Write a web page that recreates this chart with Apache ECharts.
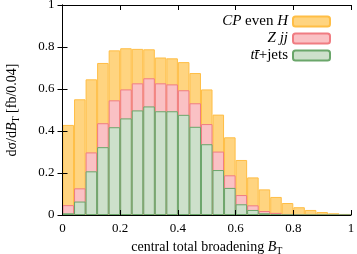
<!DOCTYPE html>
<html><head><meta charset="utf-8">
<script src="https://cdn.jsdelivr.net/npm/echarts@6/dist/echarts.min.js"></script>
<style>html,body{margin:0;padding:0;background:#fff}#c{width:357px;height:254px}</style>
</head><body><div id="c"></div>
<script>
// bin centres of B_T (bin width 0.04)
const bins = ["0.02","0.06","0.10","0.14","0.18","0.22","0.26","0.30","0.34","0.38","0.42","0.46","0.50","0.54","0.58","0.62","0.66","0.70","0.74","0.78","0.82","0.86","0.90","0.94","0.98"];
// component contributions [fb/0.04]
const ttjets = [0.008,0.064,0.208,0.323,0.418,0.460,0.498,0.517,0.494,0.494,0.477,0.420,0.337,0.214,0.129,0.051,0.024,0.008,0.003,0.001,0,0,0,0,0];
const zjj    = [0.039,0.063,0.090,0.114,0.128,0.138,0.129,0.134,0.133,0.128,0.117,0.112,0.096,0.088,0.060,0.044,0.022,0.011,0.007,0.004,0.002,0,0,0,0];
const cpEvenH= [0.382,0.424,0.348,0.287,0.238,0.196,0.164,0.138,0.123,0.124,0.134,0.144,0.165,0.176,0.181,0.167,0.133,0.103,0.076,0.052,0.035,0.024,0.014,0.008,0.005];
const xTickLabels = ["0","0.2","0.4","0.6","0.8","1"];
const yTickLabels = ["0","0.2","0.4","0.6","0.8","1"];
const seriesNames = ["CP even H","Zjj","tt+jets"];

const cumZ = ttjets.map((v,i)=>+(v+zjj[i]).toFixed(4));
const cumH = cumZ.map((v,i)=>+(v+cpEvenH[i]).toFixed(4));

const FONT = "Liberation Serif";
const tickFmt = labels => (v => { const i = Math.round(v/0.2); return labels[i] !== undefined ? labels[i] : ""; });

const chart = echarts.init(document.getElementById('c'), null, {renderer:'canvas'});
const axisLine = {show:true, lineStyle:{color:'#000', width:1}};
const tick = {show:true, inside:true, length:5, lineStyle:{color:'#000', width:1}};
const nameRich = {r:{fontFamily:FONT,fontSize:14}, i:{fontFamily:FONT,fontSize:14,fontStyle:'italic'}, s:{fontFamily:FONT,fontSize:10,padding:[8,0,0,0]}};
chart.setOption({
  animation:false,
  grid:{left:62.5, right:6, top:5, bottom:39, containLabel:false, outerBoundsMode:'none'},
  legend:{
    orient:'vertical', right:21, top:9, align:'right',
    itemWidth:37, itemHeight:10, itemGap:2,
    data:seriesNames,
    textStyle:{fontFamily:FONT, fontSize:15, color:'#000',
      rich:{i:{fontFamily:FONT, fontStyle:'italic', fontSize:15}, r:{fontFamily:FONT, fontSize:15}}},
    formatter: n => {
      if (n === seriesNames[0]) return "{i|CP}{r| even }{i|H}";
      if (n === seriesNames[1]) return "{i|Z jj}";
      return "{i|tt\u0304}{r|+jets}";
    }
  },
  xAxis:[
    {type:'category', data:bins, show:false, boundaryGap:true},
    {type:'value', min:0, max:1, interval:0.2, position:'bottom', z:10,
     axisLine:axisLine, axisTick:tick, splitLine:{show:false},
     axisLabel:{formatter:tickFmt(xTickLabels), margin:7, fontFamily:FONT, fontSize:13, color:'#000'},
     name:'{r|central total broadening }{i|B}{s|T}', nameLocation:'middle', nameGap:23,
     nameTextStyle:{fontFamily:FONT, fontSize:14, color:'#000', rich:nameRich}},
    {type:'value', min:0, max:1, interval:0.2, position:'top', z:10,
     axisLine:axisLine, axisTick:tick, splitLine:{show:false}, axisLabel:{show:false}}
  ],
  yAxis:[
    {type:'value', min:0, max:1, interval:0.2, position:'left', z:10,
     axisLine:axisLine, axisTick:tick, splitLine:{show:false},
     axisLabel:{formatter:tickFmt(yTickLabels), margin:8, fontFamily:FONT, fontSize:13, color:'#000'},
     name:'{r|d\u03c3/d}{i|B}{s|T}{r| [fb/0.04]}', nameLocation:'middle', nameGap:41, nameRotate:90,
     nameTextStyle:{fontFamily:FONT, fontSize:14, color:'#000', rich:nameRich}},
    {type:'value', min:0, max:1, interval:0.2, position:'right', z:10,
     axisLine:axisLine, axisTick:tick, splitLine:{show:false}, axisLabel:{show:false}}
  ],
  series:[
    {name:seriesNames[0], type:'bar', xAxisIndex:0, yAxisIndex:0, data:cumH,
     barWidth:'100%', barGap:'-100%', barCategoryGap:'0%',
     itemStyle:{color:'#FFD480', borderColor:'#FFBE45', borderWidth:1}},
    {name:seriesNames[1], type:'bar', xAxisIndex:0, yAxisIndex:0, data:cumZ,
     barWidth:'100%', barGap:'-100%', barCategoryGap:'0%',
     itemStyle:{color:'#FAC1C4', borderColor:'#F07C82', borderWidth:1}},
    {name:seriesNames[2], type:'bar', xAxisIndex:0, yAxisIndex:0, data:ttjets,
     barWidth:'100%', barGap:'-100%', barCategoryGap:'0%',
     itemStyle:{color:'#CDE0CB', borderColor:'#6AA66A', borderWidth:1}}
  ]
});
</script></body></html>
